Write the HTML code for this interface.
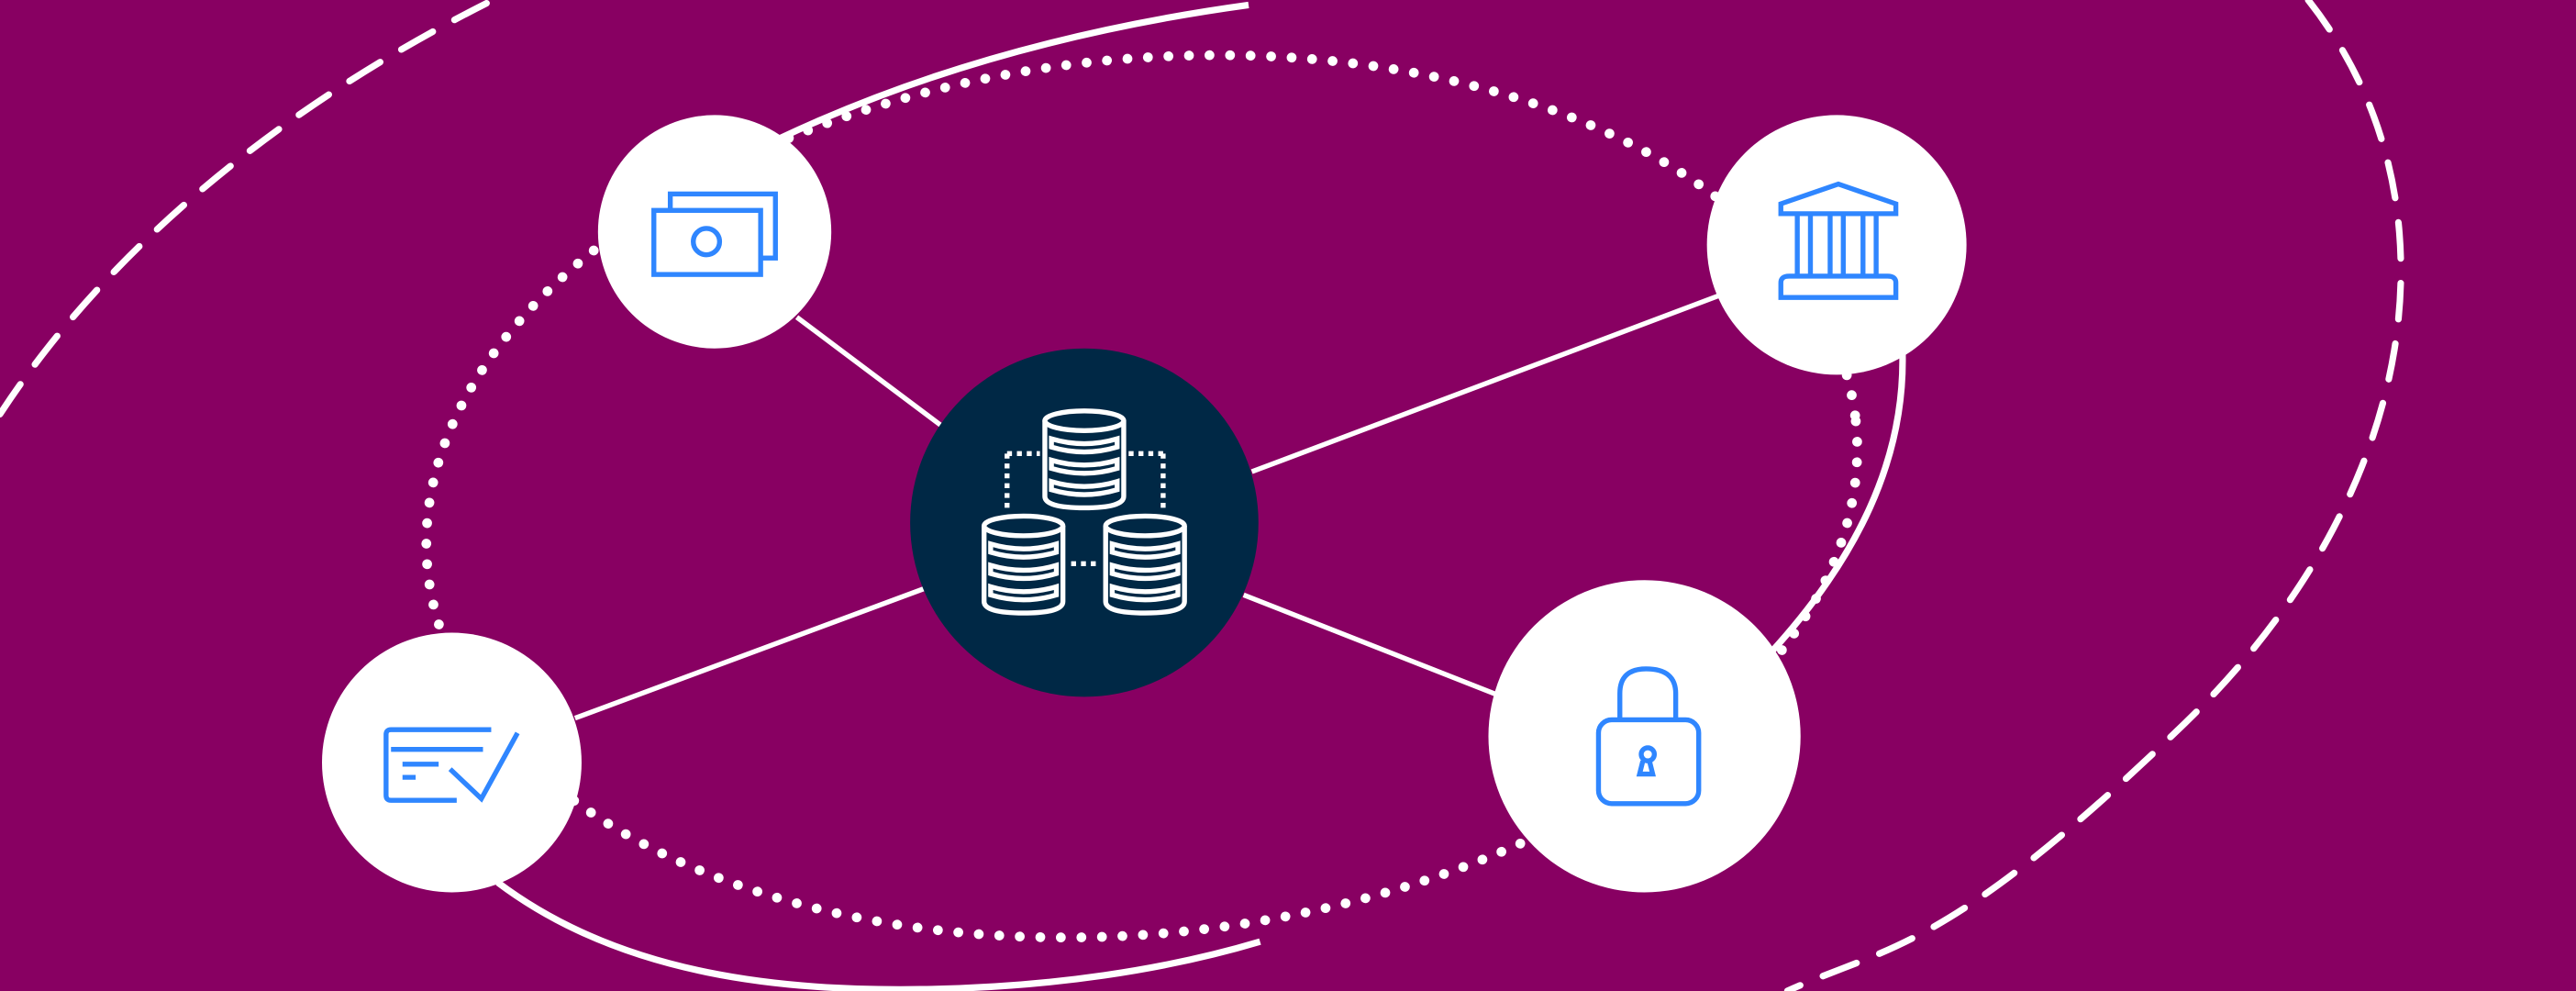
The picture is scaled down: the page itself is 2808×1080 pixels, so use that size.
<!DOCTYPE html>
<html><head><style>html,body{margin:0;padding:0;background:#880062;}svg{display:block}</style></head>
<body>
<svg width="2808" height="1080" viewBox="0 0 1568 603" xmlns="http://www.w3.org/2000/svg">
<rect width="1568" height="603" fill="#880062"/>
<g fill="none" stroke="#fff">
<path d="M0,252 C60,160 160,70 300,0" stroke-width="4" stroke-dasharray="22 15" stroke-linecap="round"/>
<path d="M1405,0 C1500,120 1475,300 1330,440 S1150,575 1088,603" stroke-width="4" stroke-dasharray="22 15" stroke-linecap="round"/>
<ellipse cx="695" cy="302" rx="437" ry="266" transform="rotate(-6 695 302)" stroke-width="6" stroke-dasharray="0 12.5" stroke-linecap="round"/>
<path d="M475,84 Q600,25 760,3" stroke-width="4"/>
<path d="M1158,213 C1160,280 1130,340 1078,397" stroke-width="4"/>
<path d="M303,537 C380,595 480,603 560,602 C640,601 710,590 767,573" stroke-width="4"/>
<line x1="485" y1="193" x2="573" y2="259" stroke-width="3"/>
<line x1="762" y1="287" x2="1046" y2="180" stroke-width="3"/>
<line x1="350" y1="437" x2="563" y2="358" stroke-width="3"/>
<line x1="757" y1="362" x2="912" y2="423" stroke-width="3"/>
</g>
<circle cx="660" cy="318" r="106" fill="#002845"/>
<circle cx="435" cy="141" r="71" fill="#fff"/>
<circle cx="1118" cy="149" r="79" fill="#fff"/>
<circle cx="1001" cy="448" r="95" fill="#fff"/>
<circle cx="275" cy="464" r="79" fill="#fff"/>
<g fill="none" stroke="#2f86ff" stroke-width="3">
<rect x="408" y="118" width="64" height="39"/>
<rect x="398" y="128" width="65" height="39" fill="#fff"/>
<circle cx="430" cy="147" r="8"/>
<path d="M1084,124 L1119,112 L1154,124 L1154,130 L1084,130 Z"/>
<path d="M1094,131 V167 M1102,131 V167 M1114,131 V167 M1122,131 V167 M1134,131 V167 M1142,131 V167"/>
<path d="M1084,181 V172 Q1084,168 1089,168 H1149 Q1154,168 1154,172 V181 Z"/>
<path d="M986,438 V422 Q986,407 1002,407 Q1020,407 1020,422 V438"/>
<rect x="973" y="438" width="61" height="51" rx="8"/>
<circle cx="1003" cy="459" r="4"/>
<path d="M1000,463 L998,471 H1006 L1004,463"/>
<path d="M299,444 H238 Q235,444 235,447 V484 Q235,487 238,487 H278"/>
<path d="M238,456 H294 M245,465 H267 M245,473 H253"/>
<path d="M274,468 L293,486 L315,446"/>
</g>
<g fill="none" stroke="#fff" stroke-width="3">
<g id="db">
<ellipse cx="660" cy="256" rx="24" ry="6"/>
<path d="M636,256 V302 Q636,309 660,309 Q684,309 684,302 V256"/>
<path d="M640,267 Q660,273 680,267 V272 Q660,278 640,272 Z"/>
<path d="M640,280 Q660,286 680,280 V285 Q660,291 640,285 Z"/>
<path d="M640,293 Q660,299 680,293 V298 Q660,304 640,298 Z"/>
</g>
<use href="#db" x="-37" y="64"/>
<use href="#db" x="37" y="64"/>
<path d="M613,276 H633 M613,276 V312 M687,276 H708 M708,276 V312 M652,343 H670" stroke-dasharray="3 3"/>
</g>
</svg>
</body></html>
